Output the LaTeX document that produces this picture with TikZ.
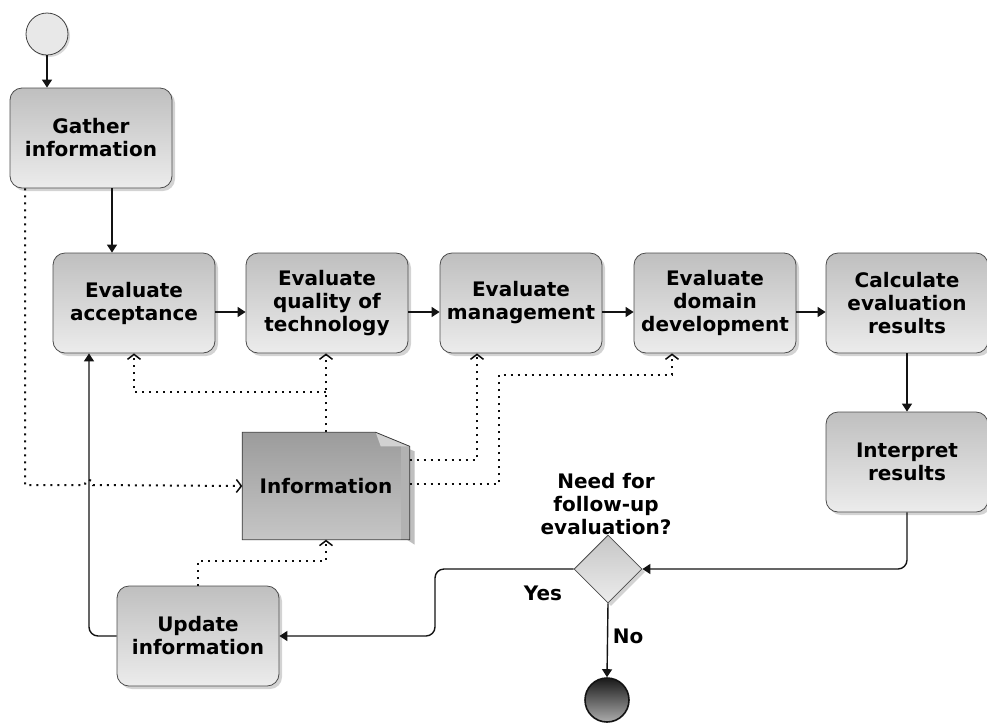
\documentclass[tikz,border=0pt]{standalone}
\usepackage{fontspec}
\setmainfont{DejaVu Sans}
\usetikzlibrary{arrows.meta,shapes.geometric,shadows}
\tikzset{
  box/.style={rectangle, rounded corners=12pt, minimum width=162pt, minimum height=100pt,
    draw=gray!60!black, line width=0.8pt, top color=gray!50, bottom color=gray!15,
    drop shadow={opacity=0.35, shadow xshift=3pt, shadow yshift=-3pt},
    align=center, font=\bfseries\fontsize{20}{23}\selectfont, inner sep=0pt},
  arr/.style={draw=gray!15!black, line width=1.4pt, rounded corners=9pt, -{Triangle[length=8pt,width=10pt]}},
  dot/.style={draw=gray!10!black, line width=2pt, dash pattern=on 2pt off 5pt,
    -{Straight Barb[length=5pt,width=13pt,line width=1.5pt]}},
  lbl/.style={font=\bfseries\fontsize{20}{23}\selectfont, align=center, inner sep=0pt}
}
\begin{document}
\begin{tikzpicture}[x=1pt,y=-1pt]
\useasboundingbox (0,0) rectangle (987,724);
% nodes
\node[circle, minimum size=42pt, inner sep=0pt, draw=gray!50!black, line width=0.8pt, fill=gray!18,
  drop shadow={opacity=0.3, shadow xshift=2pt, shadow yshift=-2pt}] (start) at (47,34) {};
\node[box] (gather) at (91,138) {Gather\\information};
\node[box] (acc) at (134,303) {Evaluate\\acceptance};
\node[box] (qual) at (327,303) {Evaluate\\quality of\\technology};
\node[box] (mgmt) at (521,303) {Evaluate\\management};
\node[box] (dom) at (715,303) {Evaluate\\domain\\development};
\node[box] (calc) at (907,303) {Calculate\\evaluation\\results};
\node[box] (interp) at (907,462) {Interpret\\results};
\node[box] (upd) at (198,636) {Update\\information};
% information document
\node[rectangle, minimum width=167pt, minimum height=107pt, inner sep=0pt] (info) at (326,486) {};
\fill[black, opacity=0.25] ([xshift=5pt,yshift=-5pt]info.north west) -- ([xshift=-29pt,yshift=-5pt]info.north east)
  -- ([xshift=5pt,yshift=-19pt]info.north east) -- ([xshift=5pt,yshift=-5pt]info.south east) -- cycle;
\shade[top color=gray!78, bottom color=gray!45]
  (info.north west) -- ([xshift=-34pt]info.north east) -- ([yshift=-14pt]info.north east)
  -- (info.south east) -- (info.south west) -- cycle;
\fill[gray!60] ([xshift=-9pt,yshift=-14pt]info.north east) rectangle (info.south east);
\fill[gray!35] ([xshift=-34pt]info.north east) -- ([xshift=-29pt,yshift=-14pt]info.north east)
  -- ([yshift=-14pt]info.north east) -- cycle;
\draw[gray!45!black, line width=0.8pt] (info.north west) -- ([xshift=-34pt]info.north east) -- ([yshift=-14pt]info.north east)
  -- (info.south east) -- (info.south west) -- cycle;
\node[lbl] at (info) {Information};
% decision and end
\node[diamond, minimum width=68pt, minimum height=68pt, inner sep=0pt, draw=gray!60!black, line width=0.8pt,
  top color=gray!45, bottom color=gray!15,
  drop shadow={opacity=0.35, shadow xshift=3pt, shadow yshift=-3pt}] (dec) at (608,569) {};
\node[circle, minimum size=44pt, inner sep=0pt, draw=gray!15!black, line width=1.6pt,
  top color=gray!20!black, bottom color=gray!65] (endc) at (607,700) {};
\node[lbl] (q) at (606,504) {Need for\\follow-up\\evaluation?};
\node[lbl] (yes) at (543,593) {Yes};
\node[lbl] (no) at (628,636) {No};
% coordinates
\coordinate (hopL) at (85,485);
\coordinate (hopR) at (93,485);
\coordinate (b1) at (326,392);
\coordinate (d1) at (499,375);
\coordinate (m1) at (435,600);
% solid connectors
\draw[arr] (start.south) -- (start.south |- gather.north);
\draw[arr] ([xshift=21pt]gather.south) -- ([xshift=-22pt]acc.north);
\draw[arr] ([yshift=-9pt]acc.east) -- ([yshift=-9pt]qual.west);
\draw[arr] ([yshift=-9pt]qual.east) -- ([yshift=-9pt]mgmt.west);
\draw[arr] ([yshift=-9pt]mgmt.east) -- ([yshift=-9pt]dom.west);
\draw[arr] ([yshift=-9pt]dom.east) -- ([yshift=-9pt]calc.west);
\draw[arr] (calc.south) -- (interp.north);
\draw[arr] (interp.south) |- (dec.east);
\draw[arr] (dec.west) -| (m1) |- (upd.east);
\draw[arr] (upd.west) -| ([xshift=-45pt]acc.south);
\draw[arr] (dec.south) -- (endc.north);
% dotted connectors
\draw[dot] ([xshift=-66pt]gather.south) |- (hopL) .. controls (85,478) and (93,478) .. (hopR) -- (info.west);
\draw[dot] (info.north) -- (info.north |- qual.south);
\draw[dot] (b1) -| (acc.south);
\draw[dot] ([yshift=26pt]info.east) -| ([xshift=-44pt]mgmt.south);
\draw[dot] ([yshift=2pt]info.east) -| (d1) -| ([xshift=-43pt]dom.south);
\draw[dot] (upd.north) |- ([yshift=-21pt]info.south) -- (info.south);
\end{tikzpicture}
\end{document}
